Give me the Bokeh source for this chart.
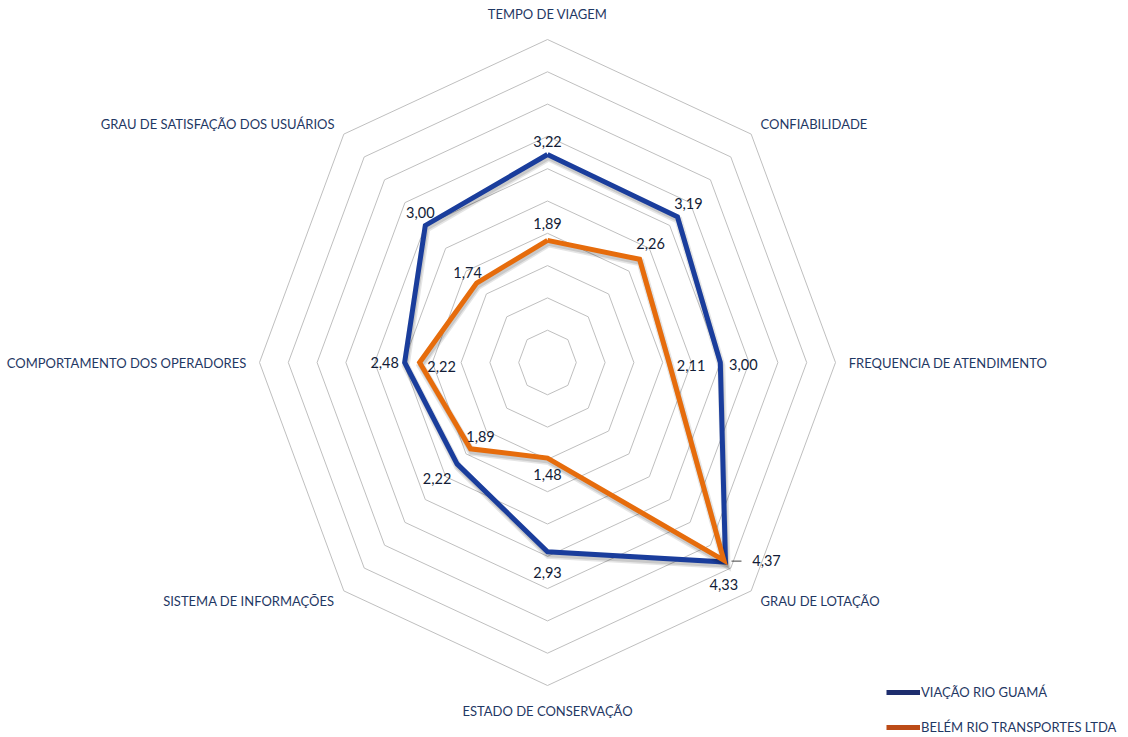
import numpy as np
from bokeh.plotting import figure
from bokeh.models import ColumnDataSource, Range1d, Legend, LegendItem
from bokeh.core.properties import value
from bokeh.embed import file_html
from bokeh.resources import INLINE

# ---------------- data ----------------
categories = ["TEMPO DE VIAGEM", "CONFIABILIDADE", "FREQUENCIA DE ATENDIMENTO",
              "GRAU DE LOTAÇÃO", "ESTADO DE CONSERVAÇÃO", "SISTEMA DE INFORMAÇÕES",
              "COMPORTAMENTO DOS OPERADORES", "GRAU DE SATISFAÇÃO DOS USUÁRIOS"]
guama = [3.22, 3.19, 3.00, 4.37, 2.93, 2.22, 2.48, 3.00]
belem = [1.89, 2.26, 2.11, 4.33, 1.48, 1.89, 2.22, 1.74]
series_names = ["VIAÇÃO RIO GUAMÁ", "BELÉM RIO TRANSPORTES LTDA"]
ring_values = [0.5, 1.0, 1.5, 2.0, 2.5, 3.0, 3.5, 4.0, 4.5, 5.0]

# ---------------- styles ----------------
W, H = 1128, 737
CX, CY = 547, 362           # centre in figure pixels
SX, SY = 57.6, 64.6         # pixels per unit in x and y
BLUE, ORANGE = "#1A3D9C", "#E66C0C"
BLUE_LEG, ORANGE_LEG = "#1E2E6E", "#BC4B17"
TXT = "#1F3864"
NUM = "#121C36"
FONT = "Lato"

# label offsets (px) for data labels: (dx, dy) with dy positive downward
off_guama = [(0, -13), (11, -13), (23, 2), (41, -2), (0, 21), (-20, 15), (-20, 0), (-5, -13)]
off_belem = [(0, -17), (11, -16), (22, 3), (0, 24), (0, 16), (10, -12), (22, 4), (-9, -11)]

n = len(categories)
ang = np.arange(n) * 2 * np.pi / n


def polar(vals):
    v = np.asarray(vals, dtype=float)
    return v * np.sin(ang), v * np.cos(ang)


p = figure(width=W, height=H, output_backend="svg", toolbar_location=None,
           x_axis_type=None, y_axis_type=None, min_border=0,
           x_range=Range1d(-CX / SX, (W - CX) / SX),
           y_range=Range1d(-(H - CY) / SY, CY / SY))
p.outline_line_color = None
p.xgrid.visible = False
p.ygrid.visible = False
p.background_fill_color = "white"
p.border_fill_color = "white"

# grid octagons
gx, gy = [], []
for r in ring_values:
    x, y = polar([r] * n)
    gx.append(list(x) + [x[0]])
    gy.append(list(y) + [y[0]])
p.multi_line(gx, gy, line_color="#BFBFBF", line_width=1)

# series lines
renderers = []
for vals, col in [(guama, BLUE), (belem, ORANGE)]:
    x, y = polar(vals)
    xs = list(x) + [x[0]]
    ys = list(y) + [y[0]]
    # soft shadow
    p.line([a + 1 / SX for a in xs], [b - 3 / SY for b in ys], line_color="#000000",
           line_alpha=0.10, line_width=8, line_join="miter")
    p.line([a + 1 / SX for a in xs], [b - 3 / SY for b in ys], line_color="#000000",
           line_alpha=0.12, line_width=5, line_join="miter")
    renderers.append(p.line(xs, ys, line_color=col, line_width=5, line_join="miter"))

# data labels
for vals, offs in [(guama, off_guama), (belem, off_belem)]:
    x, y = polar(vals)
    lx = [a + o[0] / SX for a, o in zip(x, offs)]
    ly = [b - o[1] / SY for b, o in zip(y, offs)]
    txt = [f"{v:.2f}".replace(".", ",") for v in vals]
    p.text(lx, ly, text=txt, text_font=value(FONT), text_font_size="14.5px",
           text_color=NUM, text_align="center", text_baseline="middle")

# leader line for 4,37
xg, yg = polar(guama)
p.segment(x0=[xg[3] + 6 / SX], y0=[yg[3] + 1 / SY], x1=[xg[3] + 16 / SX], y1=[yg[3] + 1 / SY],
          line_color="#404040", line_width=1)

# category labels
lab_x, lab_y, lab_align = [], [], []
for i, a in enumerate(ang):
    s, c = np.sin(a), np.cos(a)
    if abs(s) < 1e-6:
        r = 5.39
        lab_align.append("center")
    else:
        r = 5.23
        lab_align.append("left" if s > 0 else "right")
    lab_x.append(r * s)
    lab_y.append(r * c)
src = ColumnDataSource(dict(x=lab_x, y=lab_y, t=categories, a=lab_align))
p.text("x", "y", text="t", source=src, text_align="a", text_baseline="middle",
       text_font=value(FONT), text_font_size="13px", text_color=TXT)

# legend with darker swatches
leg_r = [p.line([np.nan, np.nan], [np.nan, np.nan], line_color=BLUE_LEG, line_width=5),
         p.line([np.nan, np.nan], [np.nan, np.nan], line_color=ORANGE_LEG, line_width=5)]
legend = Legend(items=[LegendItem(label=series_names[0], renderers=[leg_r[0]]),
                       LegendItem(label=series_names[1], renderers=[leg_r[1]])],
                location=(886, 1), orientation="vertical",
                glyph_width=34, glyph_height=16, label_height=18, label_standoff=1,
                spacing=17, padding=0, margin=0,
                border_line_alpha=0, background_fill_alpha=0,
                label_text_font=FONT, label_text_font_size="13px", label_text_color=TXT)
p.add_layout(legend, "center")

open("out.html", "w").write(file_html(p, INLINE))
